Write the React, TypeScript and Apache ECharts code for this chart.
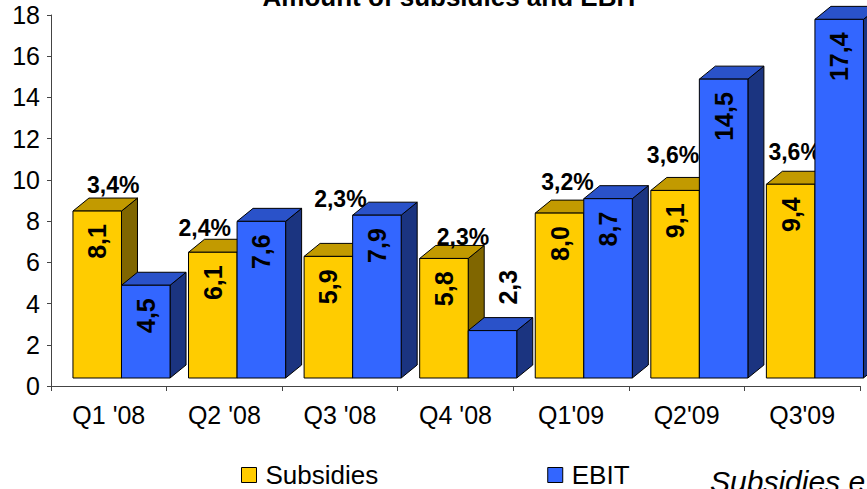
import React, { useEffect, useRef } from "react";
import * as echarts from "echarts";

// ---- data ----
const categories = ["Q1 '08", "Q2 '08", "Q3 '08", "Q4 '08", "Q1'09", "Q2'09", "Q3'09"];
const subsidies = [8.1, 6.1, 5.9, 5.8, 8.0, 9.1, 9.4];
const ebit = [4.5, 7.6, 7.9, 2.3, 8.7, 14.5, 17.4];
const subsidyShare = ["3,4%", "2,4%", "2,3%", "2,3%", "3,2%", "3,6%", "3,6%"];
const seriesNames = ["Subsidies", "EBIT"];
const yMin = 0;
const yMax = 18;
const yStep = 2;

// ---- layout / style (not data) ----
const FONT = '"Liberation Sans", Arial, sans-serif';
const LIFT = 8; // front face of 3D bars sits above the axis floor
const DEPTH_X = 16;
const DEPTH_Y = 13;
const PCT_NUDGE: number[][] = [
  [16, -26],
  [-8, -24],
  [12, -57],
  [19, -21],
  [8, -31],
  [-2, -35],
  [4, -32],
];
const PALETTES = [
  { front: "#FFCC00", top: "#C29A00", side: "#806600" },
  { front: "#3366FF", top: "#2A52C9", side: "#1B3480" },
];

const fmt = (v: number) => v.toFixed(1).replace(".", ",");

function makeRenderItem(seriesIdx: number) {
  const pal = PALETTES[seriesIdx];
  return (params: any, api: any) => {
    const idx = api.value(0);
    const v = api.value(1);
    const band = api.size([1, 0])[0];
    const c0 = api.coord([idx, 0]);
    const catStart = c0[0] - band / 2;
    const barW = band * 0.42;
    const x0 = catStart + band * 0.19 + seriesIdx * barW;
    const x1 = x0 + barW;
    const base = c0[1] - LIFT;
    const top = api.coord([idx, v])[1] - LIFT;
    const stroke = "#000";
    const children: any[] = [
      {
        type: "polygon",
        shape: {
          points: [
            [x1, top],
            [x1 + DEPTH_X, top - DEPTH_Y],
            [x1 + DEPTH_X, base - DEPTH_Y],
            [x1, base],
          ],
        },
        style: { fill: pal.side, stroke, lineWidth: 1 },
      },
      {
        type: "polygon",
        shape: {
          points: [
            [x0, top],
            [x0 + DEPTH_X, top - DEPTH_Y],
            [x1 + DEPTH_X, top - DEPTH_Y],
            [x1, top],
          ],
        },
        style: { fill: pal.top, stroke, lineWidth: 1 },
      },
      {
        type: "rect",
        shape: { x: x0, y: top, width: barW, height: base - top },
        style: { fill: pal.front, stroke, lineWidth: 1 },
      },
    ];
    const inside = base - top > 55;
    children.push({
      type: "text",
      x: inside ? (x0 + x1) / 2 : (x0 + x1) / 2 + DEPTH_X,
      y: inside ? top + 13 : top - DEPTH_Y - 13,
      rotation: Math.PI / 2,
      style: {
        text: fmt(v),
        align: inside ? "right" : "left",
        verticalAlign: "middle",
        font: `bold 25px ${FONT}`,
        fill: "#000",
      },
    });
    if (seriesIdx === 0) {
      const n = PCT_NUDGE[idx] || [0, -28];
      children.push({
        type: "text",
        x: (x0 + x1) / 2 + n[0],
        y: top + n[1],
        style: {
          text: subsidyShare[idx],
          align: "center",
          verticalAlign: "middle",
          font: `bold 23px ${FONT}`,
          fill: "#000",
        },
      });
    }
    return { type: "group", children };
  };
}

export default function App() {
  const ref = useRef<HTMLDivElement>(null);
  useEffect(() => {
    if (!ref.current) return;
    const chart = echarts.init(ref.current, undefined, { renderer: "svg" });
    const option: any = {
      animation: false,
      backgroundColor: "#fff",
      textStyle: { fontFamily: FONT },
      grid: { left: 51, right: 7, top: 15, bottom: 103, containLabel: false },
      legend: {
        left: 241,
        top: 462,
        padding: 0,
        itemWidth: 15,
        itemHeight: 15,
        itemGap: 169,
        icon: "rect",
        textStyle: {
          fontSize: 26,
          lineHeight: 26,
          color: "#000",
          fontFamily: FONT,
          padding: [0, 0, 0, 4],
        },
        data: seriesNames.map((n, i) => ({
          name: n,
          itemStyle: { color: PALETTES[i].front, borderColor: "#000", borderWidth: 1 },
        })),
      },
      xAxis: {
        type: "category",
        data: categories,
        axisLine: { lineStyle: { color: "#444", width: 1 } },
        axisTick: { show: true, length: 5, lineStyle: { color: "#444" } },
        axisLabel: { fontSize: 25, color: "#000", margin: 16, fontFamily: FONT, interval: 0 },
        splitLine: { show: false },
      },
      yAxis: {
        type: "value",
        min: yMin,
        max: yMax,
        interval: yStep,
        axisLine: { show: true, lineStyle: { color: "#444", width: 1 } },
        axisTick: { show: true, length: 4, lineStyle: { color: "#444" } },
        axisLabel: { fontSize: 25, color: "#000", margin: 11, fontFamily: FONT },
        splitLine: { show: false },
      },
      series: [subsidies, ebit].map((arr, si) => ({
        name: seriesNames[si],
        type: "custom",
        clip: false,
        renderItem: makeRenderItem(si),
        itemStyle: { color: PALETTES[si].front, borderColor: "#000", borderWidth: 1 },
        encode: { x: 0, y: 1 },
        data: arr.map((v, i) => [i, v]),
        z: 2 + si,
      })),
      graphic: [
        {
          type: "text",
          x: 451,
          y: -3.5,
          style: {
            text: "Amount of subsidies and EBIT",
            align: "center",
            verticalAlign: "middle",
            font: `bold 26px ${FONT}`,
            fill: "#000",
          },
        },
        {
          type: "text",
          x: 710,
          y: 481,
          style: {
            text: "Subsidies e",
            align: "left",
            verticalAlign: "middle",
            font: `italic 30px ${FONT}`,
            fill: "#000",
          },
        },
      ],
    };
    chart.setOption(option);
    return () => chart.dispose();
  }, []);
  return <div ref={ref} style={{ width: 867, height: 489, position: "absolute", left: 0, top: 0 }} />;
}
